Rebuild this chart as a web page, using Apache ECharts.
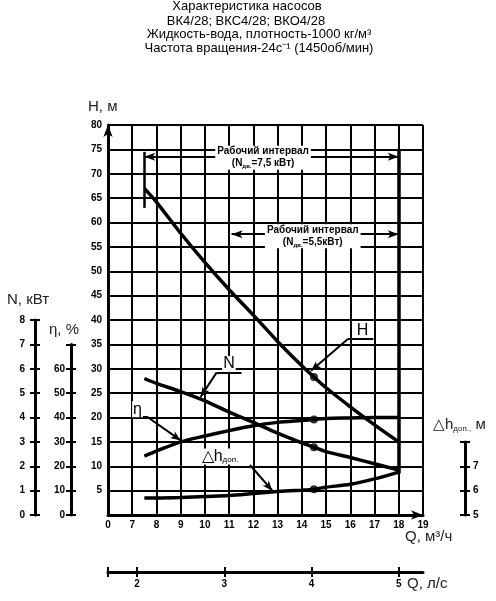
<!DOCTYPE html>
<html><head><meta charset="utf-8">
<script src="https://cdn.jsdelivr.net/npm/echarts@6/dist/echarts.min.js"></script>
<style>html,body{margin:0;padding:0;background:#fff}#c{width:496px;height:601px}</style>
</head><body><div id="c"></div>
<script>
// ---- data ----
const flowM3h = [7.5, 8, 9, 10, 11, 12, 13, 14, 14.5, 15, 16, 17, 18];
const headH   = [67, 64.2, 57.8, 51.8, 46.2, 41, 35.6, 30.6, 28.3, 26.1, 22.2, 18.5, 15];
const powerN  = [5.6, 5.4, 5.06, 4.68, 4.22, 3.8, 3.36, 2.96, 2.78, 2.6, 2.36, 2.1, 1.84];
const effEta  = [24.2, 26.2, 30, 32.4, 34.6, 36.6, 38, 38.8, 39.2, 39.6, 39.8, 40, 40];
const npshDh  = [5.70, 5.70, 5.72, 5.76, 5.80, 5.88, 5.96, 6.02, 6.06, 6.14, 6.26, 6.48, 6.76];
const dutyIndex = 8; // Q = 14.5 m3/h marked with dots
const lpsTicks = [2, 3, 4, 5];
const titleLines = [
  'Характеристика насосов',
  'ВК4/28; ВКС4/28; ВКО4/28',
  'Жидкость-вода, плотность-1000 кг/м³',
  'Частота вращения-24с⁻¹ (1450об/мин)'
];
const interval75 = {from: 7.5, to: 18, level: 73.5, text: '7,5 кВт'};
const interval55 = {from: 11.1, to: 18, level: 57.6, text: '5,5кВт'};

const FF = '"Liberation Sans", Arial, sans-serif';
const bold10 = {fontFamily: FF, fontWeight: 'bold', fontSize: 10, color: '#000'};
const pts = arr => flowM3h.map((q, i) => [q, arr[i]]);

const chart = echarts.init(document.getElementById('c'), null, {renderer: 'canvas'});

const blackLine = w => ({color: '#000', width: w, type: 'solid'});

function sideY(grid, min, max, interval, pos, hideTop, margin) {
  return [
    {gridIndex: grid, type: 'value', min, max, interval, position: pos,
     axisLine: {show: true, onZero: false, lineStyle: blackLine(3)},
     axisTick: {show: true, inside: false, length: 5, lineStyle: blackLine(2)},
     axisLabel: Object.assign({margin, formatter: v => (hideTop && v === max) ? '' : String(v)}, bold10),
     splitLine: {show: false}},
    {gridIndex: grid, type: 'value', min, max, interval, position: pos,
     axisLine: {show: false, onZero: false},
     axisTick: {show: true, inside: true, length: 5, lineStyle: blackLine(2)},
     axisLabel: {show: false}, splitLine: {show: false}}
  ];
}

const seg = (a, b, opts) => [Object.assign({coord: a}, opts && opts.start || {}), Object.assign({coord: b}, opts && opts.end || {})];
const arrowEnd = {start: {symbol: 'none'}, end: {symbol: 'arrow', symbolSize: [6, 10]}};
const noArrow = {start: {symbol: 'none'}, end: {symbol: 'none'}};

const txt = (coord, formatter, rich, extra) => ({
  coord, symbol: 'rect', symbolSize: 1, itemStyle: {color: 'rgba(0,0,0,0)'},
  label: Object.assign({show: true, position: 'inside', formatter, rich, color: '#000',
    backgroundColor: '#fff'}, extra || {})
});

const intervalRich = {
  a: {fontFamily: FF, fontWeight: 'bold', fontSize: 10, color: '#000', lineHeight: 12},
  s: {fontFamily: FF, fontWeight: 'bold', fontSize: 6, color: '#000', lineHeight: 12, verticalAlign: 'bottom'}
};
const intervalText = iv => '{a|Рабочий интервал}\n{a|(N}{s|дв.}{a|=' + iv.text + ')}';
const bigRich = {
  a: {fontFamily: FF, fontSize: 16, color: '#000'},
  s: {fontFamily: FF, fontSize: 8, color: '#000', verticalAlign: 'bottom', padding: [0, 0, 1, 0]}
};

const option = {
  animation: false,
  backgroundColor: '#fff',
  title: titleLines.map((t, i) => ({
    text: t, left: [247, 246, 259, 259][i], top: [0, 15, 28, 42][i], textAlign: 'center', padding: 0,
    textStyle: {fontFamily: FF, fontSize: 13, fontWeight: 'normal', color: '#000'}
  })),
  grid: [
    {left: 108, top: 125, width: 315, height: 390},
    {left: 35, top: 320, width: 1, height: 195},
    {left: 71, top: 344.4, width: 1, height: 170.6},
    {left: 464, top: 441.9, width: 1, height: 73.1},
    {left: 108, top: 571, width: 315, height: 1}
  ],
  xAxis: [
    {gridIndex: 0, type: 'value', min: 6, max: 19, interval: 1,
     axisLine: {show: true, onZero: false, lineStyle: blackLine(3), symbol: ['none', 'arrow'], symbolSize: [7, 12]},
     axisTick: {show: false},
     axisLabel: Object.assign({margin: 5, formatter: v => v === 6 ? '0' : String(v)}, bold10),
     splitLine: {show: true, lineStyle: blackLine(2)}},
    {gridIndex: 1, type: 'value', min: 0, max: 1, show: false},
    {gridIndex: 2, type: 'value', min: 0, max: 1, show: false},
    {gridIndex: 3, type: 'value', min: 0, max: 1, show: false},
    {gridIndex: 4, type: 'value', min: 6 / 3.6, max: 19 / 3.6, position: 'bottom',
     axisLine: {show: true, onZero: false, lineStyle: blackLine(3)},
     axisTick: {show: true, inside: false, length: 5, lineStyle: blackLine(2), customValues: [6 / 3.6].concat(lpsTicks)},
     axisLabel: Object.assign({margin: 7, customValues: lpsTicks}, bold10),
     splitLine: {show: false}},
    {gridIndex: 4, type: 'value', min: 6 / 3.6, max: 19 / 3.6, position: 'bottom',
     axisLine: {show: false, onZero: false},
     axisTick: {show: true, inside: true, length: 5, lineStyle: blackLine(2), customValues: [6 / 3.6].concat(lpsTicks)},
     axisLabel: {show: false}, splitLine: {show: false}}
  ],
  yAxis: [
    {gridIndex: 0, type: 'value', min: 0, max: 80, interval: 5,
     axisLine: {show: true, onZero: false, lineStyle: blackLine(3), symbol: ['none', 'arrow'], symbolSize: [7, 12]},
     axisTick: {show: false},
     axisLabel: Object.assign({margin: 6, formatter: v => v === 0 ? '' : String(v)}, bold10),
     splitLine: {show: true, lineStyle: blackLine(2)}},
    {gridIndex: 0, type: 'value', min: 0, max: 16, show: false},
    {gridIndex: 0, type: 'value', min: 0, max: 160, show: false},
    {gridIndex: 0, type: 'value', min: 5, max: 21, show: false},
    ...sideY(1, 0, 8, 1, 'left', false, 10),
    ...sideY(2, 0, 70, 10, 'left', true, 6),
    ...sideY(3, 5, 8, 1, 'right', true, 8),
    {gridIndex: 4, type: 'value', min: 0, max: 1, show: false}
  ],
  series: [
    {type: 'line', name: 'H', xAxisIndex: 0, yAxisIndex: 0, data: pts(headH), smooth: 0.3,
     symbol: 'none', lineStyle: {color: '#000', width: 3.5}, z: 5,
     markLine: {silent: true, animation: false, symbol: ['none', 'none'], label: {show: false},
       lineStyle: {color: '#000', type: 'solid', width: 2},
       data: [
         // working intervals
         seg([interval75.from, interval75.level], [interval75.to, interval75.level],
             {start: {symbol: 'arrow', symbolSize: [6, 11]}, end: {symbol: 'arrow', symbolSize: [6, 11]}}),
         seg([interval55.from, interval55.level], [interval55.to, interval55.level],
             {start: {symbol: 'arrow', symbolSize: [6, 11]}, end: {symbol: 'arrow', symbolSize: [6, 11]}}),
         seg([7.5, 74.5], [7.5, 63], {start: {symbol: 'none', lineStyle: {width: 2.5}}, end: {symbol: 'none'}}),
         seg([18, 75], [18, 8.5], {start: {symbol: 'none', lineStyle: {width: 3.5}}, end: {symbol: 'none'}}),
         // H leader
         seg([15.9, 36.1], [16.95, 36.1], noArrow),
         seg([15.9, 36.1], [14.38, 29.6], arrowEnd),
         // N leader
         seg([10.48, 29.2], [11.51, 29.2], noArrow),
         seg([10.48, 29.2], [9.82, 24.2], arrowEnd),
         // eta leader
         seg([7.03, 20.2], [7.6, 20.2], noArrow),
         seg([7.6, 20.2], [9.0, 15.3], arrowEnd),
         // dh leader
         seg([11.86, 10.26], [12.78, 5.0], arrowEnd)
       ]},
     markPoint: {silent: true, animation: false,
       data: [
         txt([12.4, 73.3], intervalText(interval75), intervalRich, {padding: [0, 2, 0, 2]}),
         txt([14.45, 57.2], intervalText(interval55), intervalRich, {padding: [0, 2, 0, 2]}),
         txt([16.5, 37.9], '{a|H}', bigRich, {backgroundColor: 'transparent'}),
         txt([10.99, 31.0], '{a|N}', bigRich, {padding: [0, 1, 0, 1]}),
         txt([7.22, 21.7], '{a|η}', bigRich, {padding: [0, 1, 0, 1]}),
         txt([10.62, 12.0], '{a|△h}{s|доп.}', bigRich, {padding: [0, 1, 0, 1]})
       ]}},
    {type: 'line', name: 'N', xAxisIndex: 0, yAxisIndex: 1, data: pts(powerN), smooth: 0.3,
     symbol: 'none', lineStyle: {color: '#000', width: 3.5}, z: 5},
    {type: 'line', name: 'η', xAxisIndex: 0, yAxisIndex: 2, data: pts(effEta), smooth: 0.3,
     symbol: 'none', lineStyle: {color: '#000', width: 3.5}, z: 5},
    {type: 'line', name: 'Δh', xAxisIndex: 0, yAxisIndex: 3, data: pts(npshDh), smooth: 0.3,
     symbol: 'none', lineStyle: {color: '#000', width: 3.5}, z: 5},
    {type: 'scatter', xAxisIndex: 0, yAxisIndex: 0, data: [[flowM3h[dutyIndex], headH[dutyIndex]]], symbolSize: 8, itemStyle: {color: '#000'}, z: 6},
    {type: 'scatter', xAxisIndex: 0, yAxisIndex: 1, data: [[flowM3h[dutyIndex], powerN[dutyIndex]]], symbolSize: 8, itemStyle: {color: '#000'}, z: 6},
    {type: 'scatter', xAxisIndex: 0, yAxisIndex: 2, data: [[flowM3h[dutyIndex], effEta[dutyIndex]]], symbolSize: 8, itemStyle: {color: '#000'}, z: 6},
    {type: 'scatter', xAxisIndex: 0, yAxisIndex: 3, data: [[flowM3h[dutyIndex], npshDh[dutyIndex]]], symbolSize: 8, itemStyle: {color: '#000'}, z: 6}
  ],
  graphic: [
    {type: 'text', x: 88, y: 107, style: {text: 'H, м', font: '15px ' + FF, fill: '#222', verticalAlign: 'middle'}},
    {type: 'text', x: 7, y: 300, style: {text: 'N, кВт', font: '15px ' + FF, fill: '#222', verticalAlign: 'middle'}},
    {type: 'text', x: 49, y: 330, style: {text: 'η, %', font: '15px ' + FF, fill: '#222', verticalAlign: 'middle'}},
    {type: 'text', x: 433, y: 425, style: {text: '{a|△h}{s|доп.,}{a| м}', verticalAlign: 'middle',
      rich: {a: {font: '15px ' + FF, fill: '#222'}, s: {font: '8px ' + FF, fill: '#222', verticalAlign: 'bottom'}}}},
    {type: 'text', x: 405, y: 537, style: {text: 'Q, м³/ч', font: '15px ' + FF, fill: '#222', verticalAlign: 'middle'}},
    {type: 'text', x: 407, y: 584, style: {text: 'Q, л/с', font: '15px ' + FF, fill: '#222', verticalAlign: 'middle'}}
  ]
};
chart.setOption(option);
</script>
</body></html>
